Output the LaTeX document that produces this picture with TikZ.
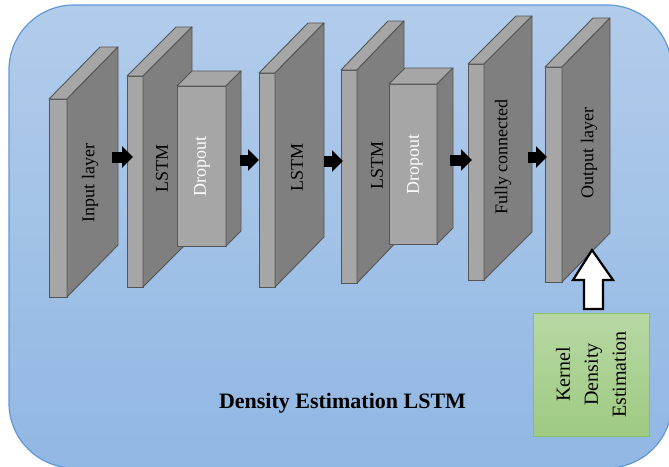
\documentclass[tikz,border=0pt]{standalone}
\usepackage{fontspec}
\setmainfont{Liberation Serif}
\usetikzlibrary{calc,arrows.meta}

\definecolor{bgtop}{RGB}{178,204,235}
\definecolor{bgbot}{RGB}{145,183,227}
\definecolor{bgedge}{RGB}{98,152,214}
\definecolor{facelight}{RGB}{166,166,166}
\definecolor{facedark}{RGB}{127,127,127}
\definecolor{faceedge}{RGB}{85,85,85}
\definecolor{kdetop}{RGB}{184,216,164}
\definecolor{kdebot}{RGB}{158,202,130}
\definecolor{kdeedge}{RGB}{136,190,104}

\tikzset{
  front/.style={draw=faceedge, fill=facelight, line width=0.9pt, inner sep=0pt, outer sep=0pt},
  face/.style={draw=faceedge, line width=0.9pt, line join=round},
  lbl/.style={rotate=90, inner sep=0pt, font=\fontsize{18}{20}\selectfont},
  blk/.style={line width=11pt, draw=black, -{Triangle[length=11pt,width=21pt]}},
  hollow/.style={draw=black, fill=white, line width=2.2pt, line join=miter},
  kdebox/.style={draw=kdeedge, line width=1pt, top color=kdetop, bottom color=kdebot, inner sep=0pt, outer sep=0pt}
}

% \slab{name}{x left}{x right}{y top}{y bottom}{depth x}{depth y}
% front face as a node, top and side faces drawn from its corners
\newcommand\slab[7]{%
  \pgfmathsetmacro\slabw{#3-#2}\pgfmathsetmacro\slabh{#5-#4}%
  \pgfmathsetmacro\slabx{(#2+#3)/2}\pgfmathsetmacro\slaby{(#4+#5)/2}%
  \node[front, minimum width=\slabw pt, minimum height=\slabh pt] (#1) at (\slabx,\slaby) {};
  \draw[face, fill=facelight] (#1.north west) -- ++(#6,-#7) -- ($(#1.north east)+(#6,-#7)$) -- (#1.north east) -- cycle;
  \draw[face, fill=facedark] (#1.north east) -- ++(#6,-#7) -- ($(#1.south east)+(#6,-#7)$) -- (#1.south east) -- cycle;
  \coordinate (#1-back) at ($(#1.east)+(#6,-#7)$);
}

\begin{document}
\begin{tikzpicture}[x=1pt, y=-1pt]
  \useasboundingbox (0,0) rectangle (669,466);
  \clip (0,0) rectangle (669,466);

  % panel
  \shade[top color=bgtop, bottom color=bgbot, draw=bgedge, line width=1.2pt, rounded corners=65pt]
    (9,5) rectangle (672,468);

  % layers
  \slab{inp}{49}{67}{99}{297}{51}{52}
  \slab{lstmA}{127}{143}{76}{287}{49}{49}
  \slab{dropA}{177}{226}{86}{246}{15}{15}
  \slab{lstmB}{259}{275}{73}{287}{49}{50}
  \slab{lstmC}{341}{357}{70}{283}{47}{49}
  \slab{dropB}{389}{437}{84}{244}{16}{16}
  \slab{fc}{468}{484}{64}{280}{48}{48}
  \slab{outp}{545}{562}{67}{282}{48}{49}

  % flow arrows between layers
  \draw[blk] ($(inp-back |- 0,157)+(-6,0)$) -- ($(lstmA.west |- 0,157)+(6,0)$);
  \draw[blk] ($(dropA-back |- 0,160)+(-1,0)$) -- ($(lstmB.west |- 0,160)+(0,0)$);
  \draw[blk] ($(lstmB-back |- 0,161)+(0,0)$) -- ($(lstmC.west |- 0,161)+(2,0)$);
  \draw[blk] ($(dropB-back |- 0,160)+(-3,0)$) -- ($(fc.west |- 0,160)+(4,0)$);
  \draw[blk] ($(fc-back |- 0,157)+(-4,0)$) -- ($(outp.west |- 0,157)+(2,0)$);

  % layer names
  \node[lbl] (t-inp) at (90,183) {Input layer};
  \node[lbl] (t-lstmA) at (162,168) {LSTM};
  \node[lbl, text=white] (t-dropA) at (202,166) {Dropout};
  \node[lbl] (t-lstmB) at (297,167) {LSTM};
  \node[lbl] (t-lstmC) at (377,165) {LSTM};
  \node[lbl, text=white] (t-dropB) at (415,164) {Dropout};
  \node[lbl] (t-fc) at (503,157) {Fully connected};
  \node[lbl] (t-outp) at (589,153) {Output layer};

  % kernel density estimation block
  \node[kdebox, minimum width=116pt, minimum height=123pt] (kde) at (591,374.5) {};
  \node[rotate=90, align=center, inner sep=0pt, font=\fontsize{20}{28}\selectfont] (kde-t) at (kde.center) {Kernel\\Density\\Estimation};

  % hollow arrow from the estimator into the output layer
  \draw[hollow] ($(kde.north)+(-7,-4)$) -- ($(kde.north)+(-7,-33)$) -- ($(kde.north)+(-18,-33)$)
    -- ($(kde.north)+(1,-63)$) coordinate (kde-tip) -- ($(kde.north)+(22,-33)$) -- ($(kde.north)+(12,-33)$)
    -- ($(kde.north)+(12,-4)$) -- cycle;

  % caption
  \node[anchor=base, inner sep=0pt, font=\bfseries\fontsize{22}{24}\selectfont] (title) at (342.5,408) {Density Estimation LSTM};
\end{tikzpicture}
\end{document}
